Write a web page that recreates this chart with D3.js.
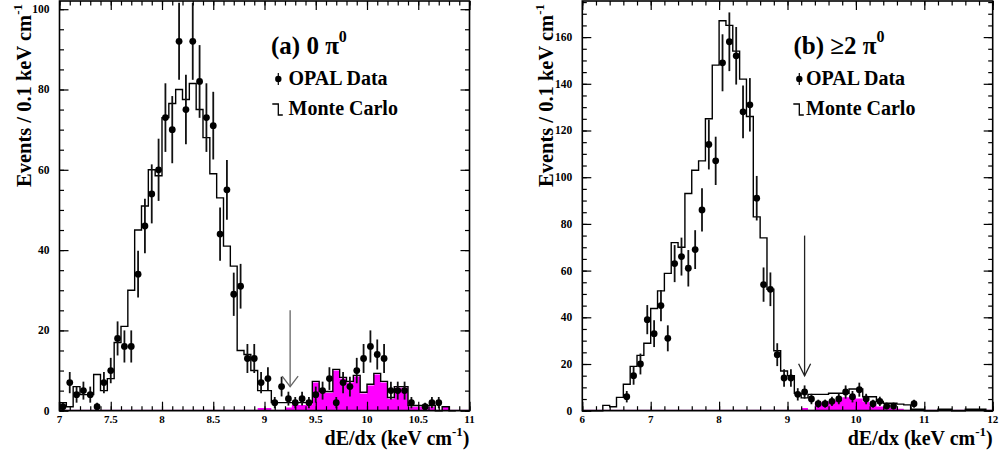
<!DOCTYPE html>
<html>
<head>
<meta charset="utf-8">
<script src="https://cdn.jsdelivr.net/npm/d3@7"></script>
<style>
  body { margin: 0; background: #fff; }
  svg text { font-family: "Liberation Serif", "Times New Roman", serif; font-weight: bold; fill: #000; }
</style>
</head>
<body>
<svg id="chart" width="1003" height="453" font-family="Liberation Serif, Times New Roman, serif" font-weight="bold"></svg>
<script>
// dE/dx distributions, bins of equal width starting at the axis origin
const leftStart = 7, leftBinW = 1 / 15;
const leftData = [1,7,4,5,4,1,7,10,18,16,16,34,46,54,60,73,70,92,75,92,82,73,71,44,55,29,31,13,13,7,
                  8,2,6,3,2,3,2,4,5,8,2,7,6,10,13,16,14,13,5,5,5,2,0,1,2,2];
const leftMC = [2,1,6,4,4,9,5,8,17,21,30,45,51,60,58.5,73,76.5,80,77.5,81.5,75,68,59,53,41,36,15,14,10,5,
                5,2,2,2,2,2,2,7.3,4.8,4.8,10.3,8.3,7.3,8.8,4.6,6.6,9.3,7.3,3.3,6,6,1.3,1.3,1.3,1.3,0,1,0];
const leftSig = [0,0,0,0,0,0,0,0,0,0,0,0,0,0,0,0,0,0,0,0,0,0,0,0,0,0,0,0,0,0.7,
                 0.7,0,0,0.8,1.4,1.4,1.4,7,4.5,4.5,10,8,7,8.5,4.3,6.3,9,7,3,5.7,5.7,1,1,1,1,0,1,0];

const rightStart = 6, rightBinW = 0.1;
const rightData = [0,0,0,0,0,0,6,15,20,39,33,45,31,63,66,61,69,86,114,107,149,158,152,128,131,91,54,52,24,14,
                   14,7,8,5,3,3,4,5,8,6,9,5,3,4,2,2,0,0,3];
const rightMC = [0,0,0,2.3,1.7,5.7,11.3,19,23.7,28.9,43.8,51.3,58.8,72,70,93,103,107,125,148,167,165,154,142,126,83,74,52,25.7,17,
                 15,7.4,5.5,7,7,7,7.5,7.5,7.5,9.3,9.3,6,6,4,3.2,3.2,2.8,2.5,0.6,0.6,0,0,0.6,0.6,0,0,0.6,0.6,0.6,0];
const rightSig = [0,0,0,0,0,0,0,0,0,0,0,0,0,0,0,0,0,0,0,0,0,0,0,0,0,0,0,0,0,0,
                  0,0,1.2,0,3.5,3.8,4.2,4.6,5.8,6.2,5.2,3.8,2.8,1.8,1.5,1.2,0.8,0];

// axis ticks
const leftXTicks = [7, 7.5, 8, 8.5, 9, 9.5, 10, 10.5, 11];
const leftYTicks = [0, 20, 40, 60, 80, 100];
const rightXTicks = [6, 7, 8, 9, 10, 11, 12];
const rightYTicks = [0, 20, 40, 60, 80, 100, 120, 140, 160];

// selection cut (dE/dx value) and arrow extent in events
const leftCut = 9.25, leftArrow = [25, 6];
const rightCut = 9.25, rightArrow = [75, 15];

const svg = d3.select("#chart");

function drawPanel(p) {
  const x = d3.scaleLinear().domain(p.xDomain).range([p.left, p.right]);
  const y = d3.scaleLinear().domain([0, p.yMax]).range([p.bottom, p.top]);
  const g = svg.append("g");

  const binPts = (vals) => {
    const pts = [[p.start, 0]];
    vals.forEach((v, i) => pts.push([p.start + i * p.binW, v]));
    pts.push([p.start + vals.length * p.binW, 0]);
    return pts;
  };

  // signal component (filled)
  const area = d3.area().curve(d3.curveStepAfter)
    .x(d => x(d[0])).y0(y(0)).y1(d => y(d[1]));
  g.append("path").datum(binPts(p.sig))
    .attr("d", area).attr("fill", "#ff00ff").attr("stroke", "none");

  g.append("line")
    .attr("x1", p.left).attr("x2", p.right)
    .attr("y1", y(0) - 0.5).attr("y2", y(0) - 0.5)
    .attr("stroke", "#5a1060").attr("stroke-width", 1);

  // Monte Carlo histogram
  const line = d3.line().curve(d3.curveStepAfter).x(d => x(d[0])).y(d => y(d[1]));
  g.append("path").datum(binPts(p.mc))
    .attr("d", line).attr("fill", "none").attr("stroke", "#000").attr("stroke-width", 1.4);

  // data points with statistical errors
  const pts = p.data.map((v, i) => ({ xc: p.start + (i + 0.5) * p.binW, v }))
    .filter(d => d.v > 0);
  g.selectAll(".err").data(pts).enter().append("line")
    .attr("x1", d => x(d.xc)).attr("x2", d => x(d.xc))
    .attr("y1", d => y(Math.min(p.yMax, d.v + Math.sqrt(d.v))))
    .attr("y2", d => y(d.v - Math.sqrt(d.v)))
    .attr("stroke", "#111").attr("stroke-width", 1.8);
  g.selectAll(".pt").data(pts).enter().append("circle")
    .attr("cx", d => x(d.xc)).attr("cy", d => y(d.v)).attr("r", 3.4)
    .attr("fill", "#000");

  // cut arrow
  const ax = x(p.cut), aTop = y(p.arrow[0]), aTip = y(p.arrow[1]);
  g.append("line").attr("x1", ax).attr("x2", ax).attr("y1", aTop).attr("y2", aTip)
    .attr("stroke", p.arrowColor).attr("stroke-width", 1.3);
  g.append("path")
    .attr("d", `M${ax - p.headW},${aTip - p.headH}L${ax},${aTip}L${ax + p.headW},${aTip - p.headH}`)
    .attr("fill", "none").attr("stroke", p.arrowColor).attr("stroke-width", 1.3);

  // axes with inward ticks on all four sides
  const xMinor = d3.range(p.xDomain[0], p.xDomain[1] + 1e-9, p.xMinorStep);
  const yMinor = d3.range(0, p.yMax, 5);
  const axes = [
    [d3.axisBottom(x), `translate(0,${p.bottom})`, p.xTicks, xMinor],
    [d3.axisTop(x), `translate(0,${p.top})`, p.xTicks, xMinor],
    [d3.axisLeft(y), `translate(${p.left},0)`, p.yTicks, yMinor],
    [d3.axisRight(y), `translate(${p.right},0)`, p.yTicks, yMinor]
  ];
  axes.forEach(([ax, tr, major, minor]) => {
    g.append("g").attr("transform", tr)
      .call(ax.tickValues(minor).tickSize(-4.5).tickFormat("").tickSizeOuter(0))
      .call(s => s.select(".domain").remove())
      .selectAll("line").attr("stroke-width", 1.2);
    g.append("g").attr("transform", tr)
      .call(ax.tickValues(major).tickSize(-9).tickFormat("").tickSizeOuter(0))
      .call(s => s.select(".domain").remove())
      .selectAll("line").attr("stroke-width", 1.2);
  });

  // tick labels
  g.selectAll(".xl").data(p.xTicks).enter().append("text")
    .attr("x", d => x(d)).attr("y", p.bottom + 12.5)
    .attr("text-anchor", "middle").style("font-size", "11px")
    .text(d => d);
  g.selectAll(".yl").data(p.yTicks).enter().append("text")
    .attr("x", p.left - 10).attr("y", d => y(d) + 4)
    .attr("text-anchor", "end").style("font-size", "11.5px")
    .text(d => d);

  // frame
  g.append("rect")
    .attr("x", p.left).attr("y", p.top)
    .attr("width", p.right - p.left).attr("height", p.bottom - p.top)
    .attr("fill", "none").attr("stroke", "#000").attr("stroke-width", 1.6);

  // axis titles
  const yt = g.append("text")
    .attr("transform", `translate(${p.left - 29},${p.top + 186}) rotate(-90)`)
    .style("font-size", "20.5px");
  yt.append("tspan").text("Events / 0.1 keV cm");
  yt.append("tspan").attr("dy", -9).style("font-size", "13px").text("-1");

  const xt = g.append("text")
    .attr("x", p.right).attr("y", 444.5)
    .attr("text-anchor", "end").style("font-size", "20px");
  xt.append("tspan").text("dE/dx (keV cm");
  xt.append("tspan").attr("dy", -9).style("font-size", "13px").text("-1");
  xt.append("tspan").attr("dy", 9).text(")");

  // legend
  const lt = g.append("text").attr("x", p.legX).attr("y", 54).style("font-size", "25px");
  lt.append("tspan").text(p.label);
  lt.append("tspan").attr("dy", -12).style("font-size", "16px").text("0");

  g.append("line").attr("x1", p.legSym).attr("x2", p.legSym).attr("y1", 73).attr("y2", 85)
    .attr("stroke", "#000").attr("stroke-width", 1.2);
  g.append("circle").attr("cx", p.legSym).attr("cy", 79).attr("r", 3.2).attr("fill", "#000");
  g.append("text").attr("x", p.legText).attr("y", 84.5).style("font-size", "20px").text("OPAL Data");

  g.append("path")
    .attr("d", `M${p.legSym - 6},104H${p.legSym}V115H${p.legSym + 4.5}`)
    .attr("fill", "none").attr("stroke", "#000").attr("stroke-width", 1.3);
  g.append("text").attr("x", p.legText).attr("y", 115).style("font-size", "20px").text("Monte Carlo");
}

drawPanel({
  xDomain: [7, 11], left: 59.5, right: 469.5, top: 1, bottom: 410.7, yMax: 102.04,
  start: leftStart, binW: leftBinW, data: leftData, mc: leftMC, sig: leftSig,
  xTicks: leftXTicks, yTicks: leftYTicks, xMinorStep: 0.1,
  cut: leftCut, arrow: leftArrow, arrowColor: "#666", headW: 8, headH: 10.5,
  label: "(a) 0 \u03c0", legX: 271, legSym: 278.3, legText: 288.5
});

drawPanel({
  xDomain: [6, 12], left: 582.3, right: 992.7, top: 1, bottom: 410.7, yMax: 175.46,
  start: rightStart, binW: rightBinW, data: rightData, mc: rightMC, sig: rightSig,
  xTicks: rightXTicks, yTicks: rightYTicks, xMinorStep: 0.2,
  cut: rightCut, arrow: rightArrow, arrowColor: "#222", headW: 6, headH: 12,
  label: "(b) \u22652 \u03c0", legX: 793.5, legSym: 799.3, legText: 806
});
</script>
</body>
</html>
